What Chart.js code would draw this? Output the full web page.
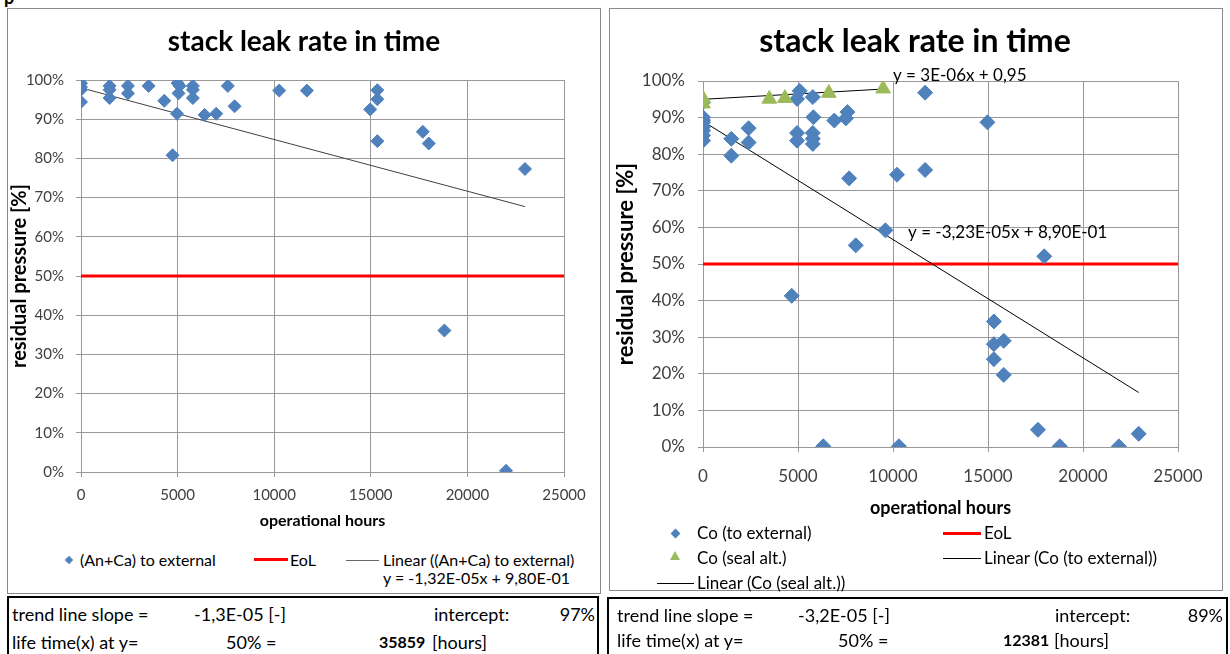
<!DOCTYPE html>
<html>
<head>
<meta charset="utf-8">
<script src="https://cdn.jsdelivr.net/npm/chart.js@4.4.1/dist/chart.umd.min.js"></script>
<style>
body { margin: 0; background: #fff; font-family: Lato, "Liberation Sans", sans-serif; }
#page { position: relative; width: 1230px; height: 654px; overflow: hidden; background: #fff; }
.box { position: absolute; border: 1px solid #8a8a8a; box-sizing: border-box; }
.tbl { position: absolute; border: 2px solid #000; box-sizing: border-box; }
.t { position: absolute; white-space: nowrap; color: #000; }
.ttl { position: absolute; text-align: center; font-weight: bold; color: #000; white-space: nowrap; }
canvas { position: absolute; }
.lg { font-size: 16px; line-height: 20px; }
.lg2 { font-size: 17px; line-height: 20px; }
.tb { font-size: 18px; line-height: 24px; }
.num { font-weight: bold; font-size: 16px; }
</style>
</head>
<body>
<div id="page">
  <div class="t" style="left:4px;top:-14px;font-size:18px;font-weight:bold">p</div>

  <!-- left chart -->
  <div class="box" style="left:7px;top:8px;width:594px;height:586px"></div>
  <canvas id="cLeft" width="592" height="530" style="left:8px;top:9px"></canvas>
  <div class="ttl" style="left:8px;width:592px;top:23px;font-size:28px;line-height:34px">stack leak rate in time</div>
  <div style="position:absolute;left:66px;top:557px;width:6px;height:6px;background:#4f81bd;transform:rotate(45deg)"></div>
  <div class="t lg" style="left:80px;top:550px">(An+Ca) to external</div>
  <div style="position:absolute;left:254px;top:558px;width:34px;height:3px;background:#ff0000"></div>
  <div class="t lg" style="left:290px;top:550px">EoL</div>
  <div style="position:absolute;left:346px;top:560px;width:33px;height:1px;background:#666"></div>
  <div class="t lg" style="left:383px;top:550px">Linear ((An+Ca) to external)</div>
  <div class="t lg" style="left:383px;top:568px">y = -1,32E-05x + 9,80E-01</div>

  <div class="tbl" style="left:7px;top:596px;width:592px;height:62px"></div>
  <div class="t tb" style="left:12px;top:602px">trend line slope =</div>
  <div class="t tb" style="left:194px;top:602px">-1,3E-05 [-]</div>
  <div class="t tb" style="left:434px;top:602px">intercept:</div>
  <div class="t tb" style="right:635px;top:602px">97%</div>
  <div class="t tb" style="left:12px;top:630px">life time(x) at y=</div>
  <div class="t tb" style="left:226px;top:630px">50% =</div>
  <div class="t tb num" style="left:379px;top:630px">35859</div>
  <div class="t tb" style="left:432px;top:630px">[hours]</div>

  <!-- right chart -->
  <div class="box" style="left:609px;top:8px;width:614px;height:583px"></div>
  <canvas id="cRight" width="612" height="515" style="left:610px;top:9px"></canvas>
  <div class="ttl" style="left:610px;width:610px;top:21px;font-size:32px;line-height:38px">stack leak rate in time</div>
  <div style="position:absolute;left:672px;top:530px;width:7px;height:7px;background:#4f81bd;transform:rotate(45deg)"></div>
  <div class="t lg2" style="left:697px;top:523px">Co (to external)</div>
  <div style="position:absolute;left:943px;top:532px;width:38px;height:3px;background:#ff0000"></div>
  <div class="t lg2" style="left:984px;top:523px">EoL</div>
  <div style="position:absolute;left:670px;top:551px;width:0;height:0;border-left:5px solid transparent;border-right:5px solid transparent;border-bottom:9px solid #9bbb59"></div>
  <div class="t lg2" style="left:697px;top:548px">Co (seal alt.)</div>
  <div style="position:absolute;left:943px;top:558px;width:38px;height:1px;background:#000"></div>
  <div class="t lg2" style="left:984px;top:548px">Linear (Co (to external))</div>
  <div style="position:absolute;left:657px;top:583px;width:37px;height:1px;background:#000"></div>
  <div class="t lg2" style="left:697px;top:573px">Linear (Co (seal alt.))</div>

  <div class="tbl" style="left:607px;top:597px;width:621px;height:62px"></div>
  <div class="t tb" style="left:617px;top:603px">trend line slope =</div>
  <div class="t tb" style="left:798px;top:603px">-3,2E-05 [-]</div>
  <div class="t tb" style="left:1055px;top:603px">intercept:</div>
  <div class="t tb" style="right:7px;top:603px">89%</div>
  <div class="t tb" style="left:617px;top:628px">life time(x) at y=</div>
  <div class="t tb" style="left:838px;top:628px">50% =</div>
  <div class="t tb num" style="left:1003px;top:628px">12381</div>
  <div class="t tb" style="left:1054px;top:628px">[hours]</div>
</div>

<script>
const FONT = 'Lato, "Liberation Sans", sans-serif';

// left chart: (An+Ca) to external
const hoursAnCa = [0, 0, 0, 0, 1480, 1480, 1480, 2430, 2430, 3500, 4310, 4740, 5000, 5100, 5050, 4970,
  5790, 5790, 5790, 6400, 7000, 7600, 7950, 10260, 11690, 15340, 15340, 14970, 15340, 17690, 18000,
  22980, 18810, 22000];
const pressAnCa = [0.992, 0.982, 0.975, 0.944, 0.985, 0.975, 0.954, 0.985, 0.966, 0.985, 0.947, 0.808,
  0.992, 0.985, 0.966, 0.914, 0.985, 0.975, 0.954, 0.911, 0.914, 0.985, 0.933, 0.973, 0.973, 0.974,
  0.951, 0.925, 0.844, 0.868, 0.838, 0.773, 0.361, 0.003];
const trendAnCaX = [0, 22980];
const trendAnCaY = [0.98, 0.677];

// right chart: Co (to external)
const hoursCoExt = [0, 0, 0, 0, 0, 0, 0, 0, 1490, 1490, 2400, 2400, 4950, 4950, 4950, 5090,
  5780, 5780, 5780, 5780, 5810, 6910, 7600, 7520, 7690, 8040, 9600, 10210, 11690, 11690, 14970,
  17960, 4670, 15310, 15310, 15310, 15830, 15830, 17630, 18780, 21890, 22930, 6330, 10310];
const pressCoExt = [0.942, 0.901, 0.893, 0.887, 0.874, 0.864, 0.851, 0.837, 0.842, 0.796, 0.871, 0.832,
  0.951, 0.858, 0.837, 0.973, 0.956, 0.858, 0.842, 0.828, 0.901, 0.892, 0.915, 0.898, 0.734, 0.551,
  0.592, 0.744, 0.968, 0.757, 0.887, 0.521, 0.413, 0.343, 0.281, 0.240, 0.290, 0.197, 0.047, 0.002,
  0.002, 0.036, 0.002, 0.002];
const trendCoExtX = [0, 22930];
const trendCoExtY = [0.89, 0.149];

// right chart: Co (seal alt.)
const hoursSeal = [0, 0, 3490, 4310, 6620, 9480];
const pressSeal = [0.952, 0.938, 0.951, 0.953, 0.967, 0.979];
const trendSealX = [0, 9480];
const trendSealY = [0.95, 0.978];

// end of life limit
const eolX = [0, 25000];
const eolY = [0.5, 0.5];

const pts = (xs, ys) => xs.map((x, i) => ({ x: x, y: ys[i] }));

function axes(o) {
  return {
    x: {
      type: 'linear', min: 0, max: 25000,
      ticks: { stepSize: 5000, color: '#404040', font: { family: FONT, size: o.tick }, padding: o.xPad,
        callback: v => String(v) },
      grid: { color: '#999', tickColor: '#999', tickLength: 5 },
      border: { color: '#999' },
      title: { display: true, text: 'operational hours', color: '#000',
        font: { family: FONT, size: o.xTitle, weight: 'bold' }, padding: { top: 0, bottom: o.xTitlePad } },
      afterFit: s => { s.height = o.xH; }
    },
    y: {
      min: 0, max: 1,
      ticks: { stepSize: 0.1, color: '#404040', font: { family: FONT, size: o.tick }, padding: o.yPad,
        callback: v => Math.round(v * 100) + '%' },
      grid: { color: '#999', tickColor: '#999', tickLength: 5 },
      border: { color: '#999' },
      title: { display: true, text: 'residual pressure [%]', color: '#000',
        font: { family: FONT, size: o.yTitle, weight: 'bold' }, padding: { top: o.yTitlePad, bottom: 0 } },
      afterFit: s => { s.width = o.yW; }
    }
  };
}

// === left chart ===
new Chart(document.getElementById('cLeft'), {
  type: 'scatter',
  data: {
    datasets: [{
      label: '(An+Ca) to external',
      data: pts(hoursAnCa, pressAnCa),
      pointStyle: 'rectRot', pointRadius: 6.5,
      backgroundColor: '#4f81bd', borderColor: '#4f81bd', order: 0
    }, {
      label: 'EoL',
      data: pts(eolX, eolY),
      showLine: true, borderColor: '#ff0000', borderWidth: 3, pointRadius: 0, order: 2
    }, {
      label: 'Linear ((An+Ca) to external)',
      data: pts(trendAnCaX, trendAnCaY),
      showLine: true, borderColor: '#404040', borderWidth: 1, pointRadius: 0, order: 1
    }]
  },
  options: {
    responsive: false, animation: false,
    layout: { padding: { left: 0, right: 36, top: 71, bottom: 7 } },
    plugins: { legend: { display: false }, tooltip: { enabled: false }, title: { display: false } },
    scales: axes({ tick: 15, xPad: 9, yPad: 12, xTitle: 16, xTitlePad: 1.4, xH: 60, yTitle: 20, yTitlePad: 0, yW: 73 })
  }
});

// trend equations written next to the lines
const eqLabels = {
  id: 'eqLabels',
  afterDatasetsDraw(chart) {
    const { ctx, scales: { x, y } } = chart;
    ctx.save();
    ctx.font = '17px ' + FONT;
    ctx.fillStyle = '#000';
    ctx.textAlign = 'left';
    ctx.textBaseline = 'middle';
    ctx.fillText('y = 3E-06x + 0,95', x.getPixelForValue(10000), y.getPixelForValue(1.016));
    ctx.fillText('y = -3,23E-05x + 8,90E-01', x.getPixelForValue(10790), y.getPixelForValue(0.587));
    ctx.restore();
  }
};

// === right chart ===
new Chart(document.getElementById('cRight'), {
  type: 'scatter',
  data: {
    datasets: [{
      label: 'Co (to external)',
      data: pts(hoursCoExt, pressCoExt),
      pointStyle: 'rectRot', pointRadius: 7.5,
      backgroundColor: '#4f81bd', borderColor: '#4f81bd', order: 1
    }, {
      label: 'Co (seal alt.)',
      data: pts(hoursSeal, pressSeal),
      pointStyle: 'triangle', pointRadius: 8.5,
      backgroundColor: '#9bbb59', borderColor: '#9bbb59', order: 0
    }, {
      label: 'EoL',
      data: pts(eolX, eolY),
      showLine: true, borderColor: '#ff0000', borderWidth: 3, pointRadius: 0, order: 4
    }, {
      label: 'Linear (Co (to external))',
      data: pts(trendCoExtX, trendCoExtY),
      showLine: true, borderColor: '#000', borderWidth: 1, pointRadius: 0, order: 3
    }, {
      label: 'Linear (Co (seal alt.))',
      data: pts(trendSealX, trendSealY),
      showLine: true, borderColor: '#000', borderWidth: 1, pointRadius: 0, order: 2
    }]
  },
  options: {
    responsive: false, animation: false,
    layout: { padding: { left: 0, right: 44, top: 72, bottom: 2 } },
    plugins: { legend: { display: false }, tooltip: { enabled: false }, title: { display: false } },
    scales: axes({ tick: 17, xPad: 14.5, yPad: 13, xTitle: 18, xTitlePad: 3.2, xH: 75, yTitle: 22, yTitlePad: 2.8, yW: 93 })
  },
  plugins: [eqLabels]
});
</script>
</body>
</html>
